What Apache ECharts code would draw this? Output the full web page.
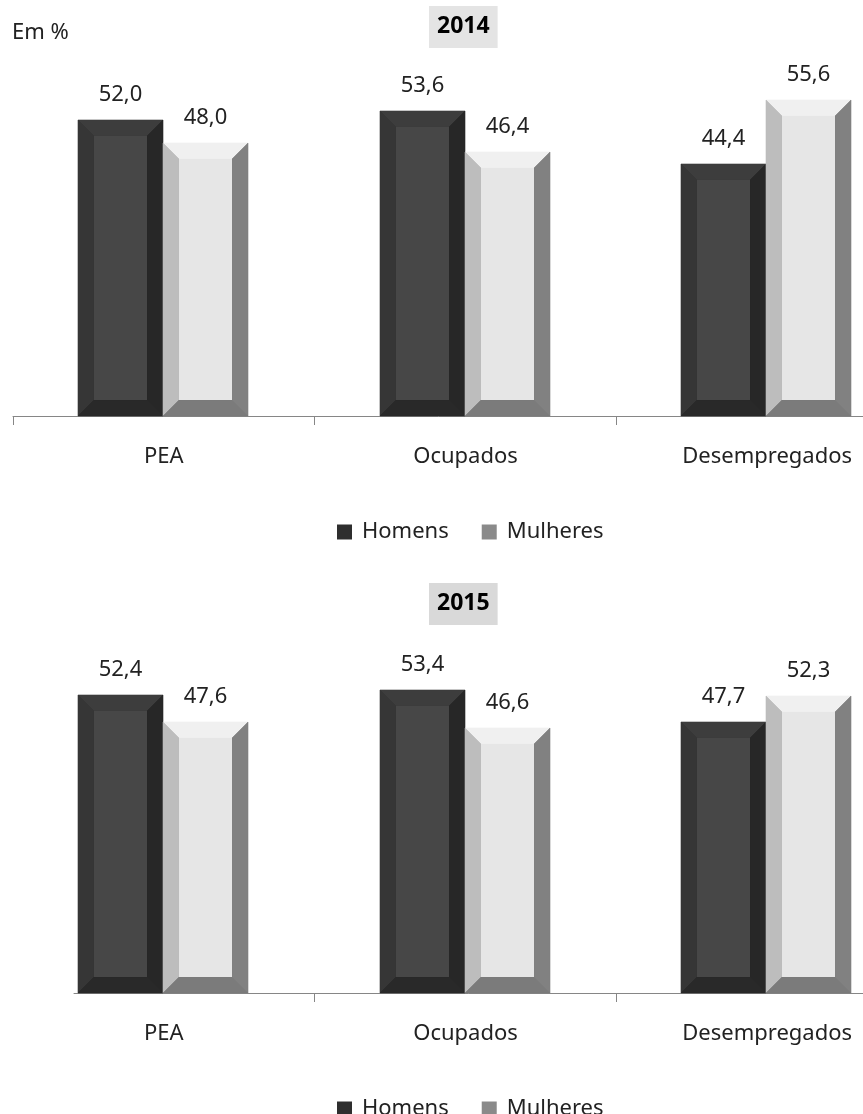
<!DOCTYPE html>
<html lang="pt">
<head>
    <meta charset="UTF-8">
    <title>PEA, ocupados e desempregados por sexo</title>
    <script src="https://cdn.jsdelivr.net/npm/echarts@6/dist/echarts.min.js"></script>
    <style>
        html, body { margin: 0; padding: 0; background: #fff; }
        #chart { width: 863px; height: 1114px; }
    </style>
</head>
<body>
    <div id="chart"></div>
    <script>
        var categories = ['PEA', 'Ocupados', 'Desempregados'];
        var homens2014 = [52.0, 53.6, 44.4];
        var mulheres2014 = [48.0, 46.4, 55.6];
        var homens2015 = [52.4, 53.4, 47.7];
        var mulheres2015 = [47.6, 46.6, 52.3];

        var FONT = '"Noto Sans", "Open Sans", sans-serif';
        var BEVEL = 16;

        // cores das faces do chanfro: topo, esquerda, centro, direita, base, fundo
        var corHomens = ['#3d3d3d', '#363636', '#474747', '#272727', '#292929', '#303030'];
        var corMulheres = ['#f0f0f0', '#bdbdbd', '#e6e6e6', '#818181', '#7b7b7b', '#a0a0a0'];

        function fmt(v) {
            return v.toFixed(1).replace('.', ',');
        }

        function toData(arr) {
            return arr.map(function(v, i) { return [i, v]; });
        }

        // barra chanfrada desenhada a partir das coordenadas do eixo
        function bevelBar(lado, cores) {
            return function(params, api) {
                var cat = api.value(0), val = api.value(1);
                var base = api.coord([cat, 0]);
                var topo = api.coord([cat, val]);
                var bw = Math.round(api.size([1, 0])[0] * 0.2834);
                var cx = Math.round(base[0] - 1);
                var x0 = lado < 0 ? cx - bw : cx;
                var x1 = x0 + bw;
                var y0 = Math.round(topo[1]), y1 = Math.round(base[1]);
                var b = BEVEL;
                function poly(pts, c) {
                    return { type: 'polygon', shape: { points: pts }, style: { fill: c, stroke: c, lineWidth: 0.6 } };
                }
                return {
                    type: 'group',
                    children: [
                        { type: 'rect', shape: { x: x0, y: y0, width: bw, height: y1 - y0 }, style: { fill: cores[5] } },
                        poly([[x0, y0], [x1, y0], [x1 - b, y0 + b], [x0 + b, y0 + b]], cores[0]),
                        poly([[x0, y0], [x0 + b, y0 + b], [x0 + b, y1 - b], [x0, y1]], cores[1]),
                        poly([[x1, y0], [x1, y1], [x1 - b, y1 - b], [x1 - b, y0 + b]], cores[3]),
                        poly([[x0, y1], [x1, y1], [x1 - b, y1 - b], [x0 + b, y1 - b]], cores[4]),
                        { type: 'rect', shape: { x: x0 + b, y: y0 + b, width: bw - 2 * b, height: y1 - y0 - 2 * b }, style: { fill: cores[2] } },
                        {
                            type: 'text',
                            style: {
                                text: fmt(val),
                                x: (x0 + x1) / 2,
                                y: y0 - 25,
                                align: 'center',
                                verticalAlign: 'middle',
                                fontSize: 22,
                                fontFamily: FONT,
                                fill: '#222'
                            }
                        }
                    ]
                };
            };
        }

        function catAxis(grid, semLinha) {
            return {
                type: 'category',
                gridIndex: grid,
                data: categories,
                boundaryGap: true,
                axisLine: { show: !semLinha, lineStyle: { color: '#868686', width: 1 } },
                axisTick: {
                    show: true,
                    length: 9,
                    lineStyle: { color: '#868686' },
                    interval: semLinha ? function(i) { return i !== 0; } : 0
                },
                axisLabel: { fontSize: 22, fontFamily: FONT, color: '#222', margin: 30 }
            };
        }

        function valAxis(grid) {
            return { type: 'value', gridIndex: grid, min: 0, max: 60, show: false, splitLine: { show: false } };
        }

        function legenda(top) {
            return {
                left: 332,
                top: top,
                icon: 'rect',
                itemWidth: 15,
                itemHeight: 15,
                itemGap: 33,
                data: ['Homens', 'Mulheres'],
                textStyle: { fontSize: 22, fontFamily: FONT, color: '#222', lineHeight: 22, padding: [0, 0, 0, 5] }
            };
        }

        function titulo(txt, top, bg) {
            return {
                text: txt,
                left: 429,
                top: top,
                padding: [9, 8, 10, 8],
                backgroundColor: bg,
                textStyle: { fontSize: 23, fontWeight: 'bold', fontFamily: FONT, color: '#000' }
            };
        }

        var chart = echarts.init(document.getElementById('chart'));
        chart.setOption({
            animation: false,
            backgroundColor: '#fff',
            title: [
                titulo('2014', 6, '#e4e4e4'),
                titulo('2015', 583, '#d9d9d9'),
                {
                    text: 'Em %',
                    left: 12,
                    top: 22,
                    padding: 0,
                    textStyle: { fontSize: 22, fontWeight: 'normal', fontFamily: FONT, color: '#222' }
                }
            ],
            legend: [legenda(516), legenda(1093)],
            grid: [
                { left: 13, right: -55, top: 75, height: 341, outerBoundsMode: 'none', containLabel: false },
                { left: 13, right: -55, top: 652, height: 341, outerBoundsMode: 'none', containLabel: false },
                { left: 74, right: -55, top: 652, height: 341, outerBoundsMode: 'none', containLabel: false }
            ],
            xAxis: [
                catAxis(0, false),
                catAxis(1, true),
                {
                    type: 'value', gridIndex: 2, min: 0, max: 1,
                    axisLine: { show: true, onZero: false, lineStyle: { color: '#868686', width: 1 } },
                    axisTick: { show: false }, axisLabel: { show: false }, splitLine: { show: false }
                }
            ],
            yAxis: [valAxis(0), valAxis(1), { type: 'value', gridIndex: 2, min: 0, max: 1, show: false }],
            series: [
                { name: 'Homens', type: 'custom', xAxisIndex: 0, yAxisIndex: 0, itemStyle: { color: '#2e2e2e' },
                  renderItem: bevelBar(-1, corHomens), encode: { x: 0, y: 1 }, data: toData(homens2014) },
                { name: 'Mulheres', type: 'custom', xAxisIndex: 0, yAxisIndex: 0, itemStyle: { color: '#8a8a8a' },
                  renderItem: bevelBar(1, corMulheres), encode: { x: 0, y: 1 }, data: toData(mulheres2014) },
                { name: 'Homens', type: 'custom', xAxisIndex: 1, yAxisIndex: 1, itemStyle: { color: '#2e2e2e' },
                  renderItem: bevelBar(-1, corHomens), encode: { x: 0, y: 1 }, data: toData(homens2015) },
                { name: 'Mulheres', type: 'custom', xAxisIndex: 1, yAxisIndex: 1, itemStyle: { color: '#8a8a8a' },
                  renderItem: bevelBar(1, corMulheres), encode: { x: 0, y: 1 }, data: toData(mulheres2015) }
            ]
        });
    </script>
</body>
</html>
